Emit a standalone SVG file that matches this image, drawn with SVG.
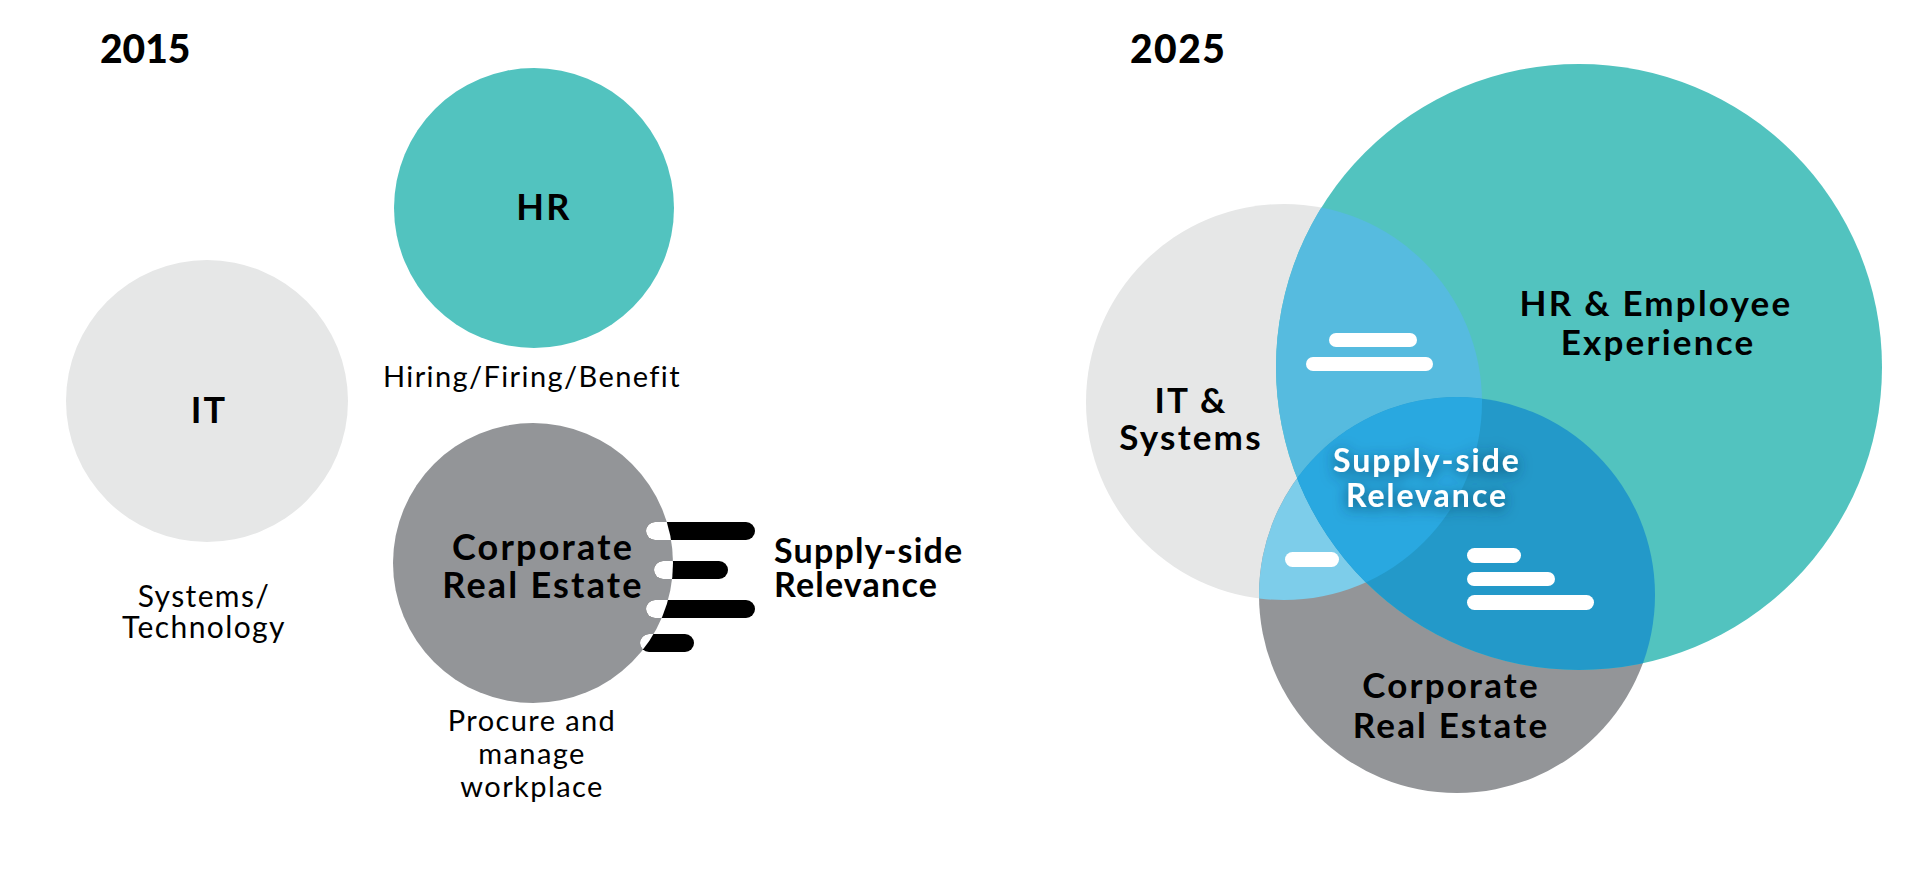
<svg xmlns="http://www.w3.org/2000/svg" width="1920" height="881" viewBox="0 0 1920 881">
<style>
.b{font-family:Lato,"Noto Sans","Liberation Sans",sans-serif;font-weight:700;fill:#000;letter-spacing:2.2px}
.t{font-family:Lato,"Noto Sans","Liberation Sans",sans-serif;font-weight:900;fill:#000}
.n{font-family:Lato,"Noto Sans","Liberation Sans",sans-serif;font-weight:400;fill:#000;letter-spacing:1.4px}
.w{font-family:Lato,"Noto Sans","Liberation Sans",sans-serif;font-weight:700;fill:#fff;letter-spacing:2px}
.wb{fill:#fff}
.kb{fill:#000}
</style>
<defs>
<clipPath id="c15cre"><circle cx="533" cy="563" r="140"/></clipPath>
<clipPath id="cIT"><circle cx="1284" cy="402" r="198"/></clipPath>
<clipPath id="cHR"><circle cx="1579" cy="367" r="303"/></clipPath>
<clipPath id="cCRE"><circle cx="1457" cy="595" r="198"/></clipPath>
<filter id="sh" x="-30%" y="-50%" width="160%" height="200%">
<feDropShadow dx="0" dy="3" stdDeviation="7" flood-color="#0b3550" flood-opacity="0.75"/>
</filter>
</defs>
<rect width="1920" height="881" fill="#fff"/>

<g id="title2015"><text class="t" x="100" y="63" font-size="39">2015</text></g>

<g id="hr2015">
<circle cx="534" cy="208" r="140" fill="#52C3BF"/>
<text class="b" x="544" y="220" font-size="36" text-anchor="middle">HR</text>
<text class="n" x="532" y="387" font-size="29" text-anchor="middle">Hiring/Firing/Benefit</text>
</g>

<g id="it2015">
<circle cx="207" cy="401" r="141" fill="#E6E7E7"/>
<text class="b" x="209" y="423" font-size="36" text-anchor="middle">IT</text>
<text class="n" font-size="30" text-anchor="middle"><tspan x="204" y="607">Systems/</tspan><tspan x="204" y="638">Technology</tspan></text>
</g>

<g id="cre2015">
<circle cx="533" cy="563" r="140" fill="#939598"/>
<g class="kb">
<rect x="646" y="522" width="109" height="18" rx="9"/>
<rect x="654" y="561" width="74" height="18" rx="9"/>
<rect x="646" y="600" width="109" height="18" rx="9"/>
<rect x="640" y="634" width="54" height="18" rx="9"/>
</g>
<g class="wb" clip-path="url(#c15cre)">
<rect x="646" y="522" width="109" height="18" rx="9"/>
<rect x="654" y="561" width="74" height="18" rx="9"/>
<rect x="646" y="600" width="109" height="18" rx="9"/>
<rect x="640" y="634" width="54" height="18" rx="9"/>
</g>
<text class="b" font-size="36" text-anchor="middle"><tspan x="543" y="560">Corporate</tspan><tspan x="543" y="598">Real Estate</tspan></text>
<text class="n" font-size="29" text-anchor="middle"><tspan x="532" y="731">Procure and</tspan><tspan x="532" y="764">manage</tspan><tspan x="532" y="797">workplace</tspan></text>
</g>

<g id="ssr2015">
<text class="b" font-size="34" style="letter-spacing:1.2px"><tspan x="774" y="563">Supply-side</tspan><tspan x="774" y="597">Relevance</tspan></text>
</g>

<g id="title2025"><text class="t" x="1130" y="63" font-size="39" style="letter-spacing:1.5px">2025</text></g>

<g id="venn2025">
<circle id="it2025" cx="1284" cy="402" r="198" fill="#E6E7E7"/>
<circle id="cre2025" cx="1457" cy="595" r="198" fill="#939598"/>
<circle id="hr2025" cx="1579" cy="367" r="303" fill="#52C3BF"/>
<circle cx="1579" cy="367" r="303" fill="#56BBDF" clip-path="url(#cIT)"/>
<circle cx="1284" cy="402" r="198" fill="#7DCDEA" clip-path="url(#cCRE)"/>
<circle cx="1579" cy="367" r="303" fill="#2399C9" clip-path="url(#cCRE)"/>
<g clip-path="url(#cCRE)"><circle cx="1284" cy="402" r="198" fill="#29A8E0" clip-path="url(#cHR)"/></g>
<g class="wb">
<rect x="1329" y="333" width="88" height="14" rx="7"/>
<rect x="1306" y="357" width="127" height="14" rx="7"/>
<rect x="1285" y="552" width="54" height="15" rx="7.5"/>
<rect x="1467" y="548" width="54" height="15" rx="7.5"/>
<rect x="1467" y="572" width="88" height="14" rx="7"/>
<rect x="1467" y="595" width="127" height="15" rx="7.5"/>
</g>
</g>

<g id="label-hr2025">
<text class="b" font-size="35" text-anchor="middle"><tspan x="1656" y="316">HR &amp; Employee</tspan><tspan x="1658" y="355">Experience</tspan></text>
</g>
<g id="label-it2025">
<text class="b" font-size="35" text-anchor="middle"><tspan x="1191" y="413">IT &amp;</tspan><tspan x="1191" y="450">Systems</tspan></text>
</g>
<g id="label-cre2025">
<text class="b" font-size="35" text-anchor="middle"><tspan x="1451" y="698">Corporate</tspan><tspan x="1451" y="738">Real Estate</tspan></text>
</g>
<g id="label-ssr2025" filter="url(#sh)">
<text class="w" font-size="32" text-anchor="middle"><tspan x="1427" y="472">Supply-side</tspan><tspan x="1427" y="507">Relevance</tspan></text>
</g>
</svg>
